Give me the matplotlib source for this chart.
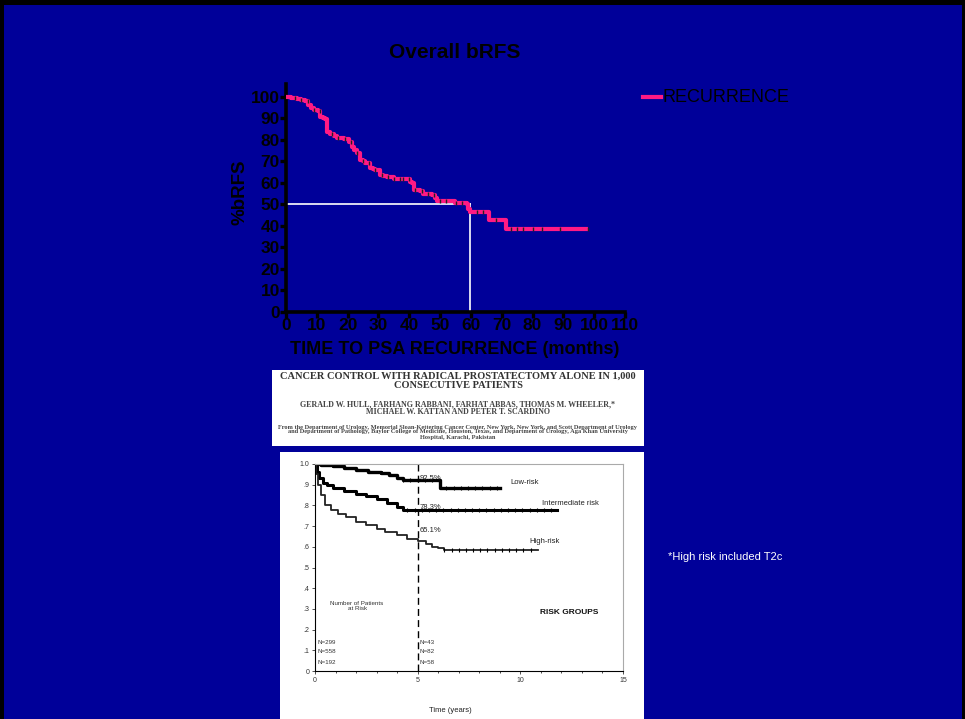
import matplotlib
matplotlib.use('Agg')
import matplotlib.pyplot as plt
import numpy as np
from matplotlib.patches import Rectangle

plt.rcParams['font.family'] = ['Liberation Sans', 'DejaVu Sans']

# main chart data
months = [0, 1.5, 3.6, 5, 6.3, 7.3, 8.2, 9, 10.3, 11.1, 12, 12.8, 13.3, 14.4, 15.5, 16.5,
          18.7, 20.3, 21.4, 22.2, 23, 24.1, 25, 25.7, 27.3, 28.2, 29, 30.6, 31.5, 32.7,
          34.9, 40.2, 40.8, 41.4, 43.5, 44.6, 47.3, 48.4, 49, 54.9, 58.7, 59.2, 59.8, 66,
          71.4, 98.1]
brfs = [100, 99.5, 98.9, 98.5, 98, 96, 95, 93.8, 93.5, 90.7, 90, 89.5, 83.7, 82.6, 81.8,
        81, 80.2, 79, 76.7, 75.5, 74, 70.5, 70, 69, 67.1, 66.5, 65.9, 63.6, 63, 62.5, 61.7,
        60.5, 59.7, 56.6, 56.3, 55, 54.3, 53, 51.6, 50.7, 50.1, 48, 46.5, 42.6, 38.4, 38.4]
censored = [3, 5, 7, 9, 11, 15, 17, 19, 21, 23, 25, 27, 29, 31, 33, 35, 37, 38, 40, 42,
            44, 46, 48, 50, 52, 55, 57, 62, 64, 68, 73, 75, 77, 80, 83, 89, 98]
median_month = 59.8
x_ticks = list(range(0, 111, 10))
y_ticks = list(range(0, 101, 10))

# inset (paper figure) data, years vs probability
low_t = [0, 0.3, 0.9, 1.4, 2.0, 2.6, 3.2, 3.6, 4.0, 4.3, 6.1, 9.0]
low_p = [1.0, 0.995, 0.99, 0.98, 0.97, 0.962, 0.955, 0.945, 0.93, 0.923, 0.884, 0.884]
int_t = [0, 0.1, 0.2, 0.4, 0.6, 0.9, 1.4, 2.0, 2.5, 3.0, 3.5, 4.0, 4.3, 11.8]
int_p = [1.0, 0.96, 0.93, 0.91, 0.9, 0.885, 0.87, 0.855, 0.845, 0.83, 0.81, 0.79, 0.778, 0.778]
high_t = [0, 0.05, 0.15, 0.3, 0.5, 0.8, 1.1, 1.5, 2.0, 2.5, 3.0, 3.4, 4.0, 4.5, 5.0, 5.4,
          5.7, 6.0, 6.3, 10.85]
high_p = [1.0, 0.95, 0.9, 0.85, 0.8, 0.78, 0.76, 0.745, 0.72, 0.705, 0.685, 0.67, 0.655,
          0.64, 0.63, 0.615, 0.6, 0.592, 0.585, 0.585]

W, H = 965, 719
fig = plt.figure(figsize=(W / 100, H / 100), dpi=100)
fig.patch.set_facecolor('black')
bg = '#000099'


def fx(px):
    return px / W


def fy(py):
    return 1 - py / H


fig.patches.append(Rectangle((fx(4), 0), fx(962) - fx(4), fy(5), transform=fig.transFigure,
                             facecolor=bg, edgecolor='none', zorder=-10))

# ---- main chart ----
ax = fig.add_axes([fx(286), fy(311.7), fx(625) - fx(286), fy(84) - fy(311.7)])
ax.set_facecolor(bg)
ax.step(months, brfs, where='post', color='#ff1a84', linewidth=3, solid_capstyle='butt', zorder=3)
cens_y = [brfs[np.searchsorted(months, c, side='right') - 1] for c in censored]
ax.plot(censored, cens_y, linestyle='none', marker='|', color='#222222', markersize=2.5,
        markeredgewidth=1.0, zorder=4)
ax.plot([0, median_month], [50, 50], color='white', linewidth=1.2, zorder=2)
ax.plot([median_month, median_month], [0, 50], color='white', linewidth=1.2, zorder=2)
ax.set_xlim(0, 110)
ax.set_ylim(0, 106)
ax.set_xticks(x_ticks)
ax.set_yticks(y_ticks)
for s in ['top', 'right']:
    ax.spines[s].set_visible(False)
for s in ['left', 'bottom']:
    ax.spines[s].set_linewidth(2.6)
    ax.spines[s].set_color('black')
ax.tick_params(axis='both', width=2.4, length=4, color='black', pad=0.5, labelsize=12.5)
for lab in ax.get_xticklabels() + ax.get_yticklabels():
    lab.set_fontweight('bold')
    lab.set_color('black')

fig.text(fx(455), fy(52), 'Overall bRFS', ha='center', va='center', fontsize=15,
         fontweight='bold', color='black')
fig.text(fx(455), fy(349), 'TIME TO PSA RECURRENCE (months)', ha='center', va='center',
         fontsize=13, fontweight='bold', color='black')
fig.text(fx(240), fy(192), '%bRFS', ha='center', va='center', rotation=90,
         fontsize=13.5, fontweight='bold', color='black')

# legend
fig.lines.append(plt.Line2D([fx(643), fx(661)], [fy(97), fy(97)], transform=fig.transFigure,
                            color='#ff1a84', linewidth=3))
fig.text(fx(663), fy(98), 'RECURRENCE', ha='left', va='center', fontsize=13, color='black')

fig.text(fx(668), fy(557), '*High risk included T2c', ha='left', va='center', fontsize=8,
         color='white')

# ---- paper header image ----
fig.patches.append(Rectangle((fx(272), fy(446)), fx(644) - fx(272), fy(370) - fy(446),
                             transform=fig.transFigure, facecolor='white', edgecolor='none',
                             zorder=-5))
serif = 'Liberation Serif'
fig.text(fx(458), fy(381), 'CANCER CONTROL WITH RADICAL PROSTATECTOMY ALONE IN 1,000\n'
         'CONSECUTIVE PATIENTS', ha='center', va='center', fontsize=7.5, fontweight='bold',
         family=serif, color='#333333', linespacing=1.0)
fig.text(fx(458), fy(408), 'GERALD W. HULL, FARHANG RABBANI, FARHAT ABBAS, THOMAS M. WHEELER,*\n'
         'MICHAEL W. KATTAN AND PETER T. SCARDINO', ha='center', va='center', fontsize=5.8,
         fontweight='bold', family=serif, color='#444444', linespacing=1.0)
fig.text(fx(458), fy(432), 'From the Department of Urology, Memorial Sloan-Kettering Cancer Center, New York, New York, '
         'and Scott Department of Urology\nand Department of Pathology, Baylor College of Medicine, '
         'Houston, Texas, and Department of Urology, Aga Khan University\nHospital, Karachi, Pakistan',
         ha='center', va='center', fontsize=4.6, fontweight='bold', family=serif, color='#444444',
         linespacing=1.0)

# ---- paper KM figure ----
fig.patches.append(Rectangle((fx(280), 0), fx(644) - fx(280), fy(452),
                             transform=fig.transFigure, facecolor='white', edgecolor='none',
                             zorder=-5))
ax2 = fig.add_axes([fx(315), fy(671), fx(623) - fx(315), fy(464) - fy(671)])
ax2.set_facecolor('white')
ax2.step(low_t, low_p, where='post', color='black', linewidth=2.4)
ax2.step(int_t, int_p, where='post', color='black', linewidth=2.2)
ax2.step(high_t, high_p, where='post', color='#222222', linewidth=1.3)
for tt, pp, c0, c1 in [(low_t, low_p, 4.3, 9.0), (int_t, int_p, 4.5, 11.8), (high_t, high_p, 6.3, 10.85)]:
    cx = np.arange(c0, c1, 0.35)
    cy = [pp[np.searchsorted(tt, c, side='right') - 1] for c in cx]
    ax2.plot(cx, cy, linestyle='none', marker='|', color='black', markersize=3.2, markeredgewidth=0.8)
ax2.axvline(5, color='black', linestyle=(0, (5, 3)), linewidth=1.0)
ax2.set_xlim(0, 15)
ax2.set_ylim(0, 1.0)
ax2.set_xticks([0, 5, 10, 15])
ax2.set_xticks(np.arange(0, 15, 1), minor=True)
ax2.set_yticks(np.arange(0, 1.01, 0.1))
ax2.set_yticklabels(['0', '.1', '.2', '.3', '.4', '.5', '.6', '.7', '.8', '.9', '1.0'])
for s in ['top', 'right']:
    ax2.spines[s].set_color('#aaaaaa')
ax2.tick_params(axis='both', labelsize=5, length=2, width=0.6, pad=2, colors='#333333')
ax2.tick_params(axis='x', which='minor', length=1.5, width=0.5)
kw = dict(fontsize=5.5, color='#222222', va='center')
ax2.text(5.1, 0.928, '92.5%', **kw)
ax2.text(5.1, 0.792, '78.3%', **kw)
ax2.text(5.1, 0.681, '65.1%', **kw)
ax2.text(9.5, 0.913, 'Low-risk', **kw)
ax2.text(11.05, 0.81, 'Intermediate risk', **kw)
ax2.text(10.45, 0.628, 'High-risk', **kw)
ax2.text(2.05, 0.314, 'Number of Patients\nat Risk', ha='center', va='center', fontsize=4.5,
         color='#333333')
ax2.text(12.4, 0.285, 'RISK GROUPS', ha='center', va='center', fontsize=6, fontweight='bold',
         color='#111111')
for y, a, b in [(0.14, 'N=299', 'N=43'), (0.092, 'N=558', 'N=82'), (0.039, 'N=192', 'N=58')]:
    ax2.text(0.1, y, a, va='center', fontsize=4.5, color='#333333')
    ax2.text(5.1, y, b, va='center', fontsize=4.5, color='#333333')
fig.text(fx(450), fy(710), 'Time (years)', ha='center', va='center', fontsize=5.5,
         color='#222222')

fig.savefig('out.png', dpi=100, facecolor=fig.get_facecolor())
